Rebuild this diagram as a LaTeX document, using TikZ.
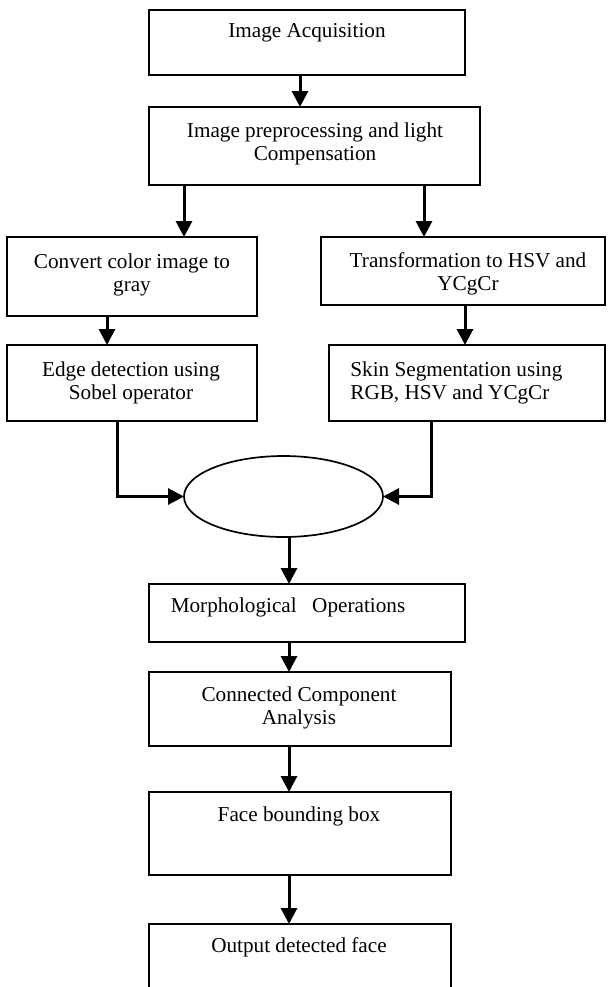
\documentclass[tikz,border=0pt]{standalone}
\usepackage{fontspec}
\setmainfont{Liberation Serif}
\usetikzlibrary{arrows.meta,shapes.geometric}
\begin{document}
\begin{tikzpicture}[x=0.5pt,y=-0.5pt,
  box/.style={draw, line width=1pt, inner sep=0pt, outer sep=0pt, anchor=north west},
  txt/.style={font=\fontsize{10.6pt}{11.5pt}\selectfont, align=center, inner sep=0pt},
  arr/.style={line width=1.5pt, -{Triangle[width=8pt,length=8pt]}},
  ]
\useasboundingbox (0,0) rectangle (607,987);
\clip (0,0) rectangle (607,987);
% boxes
\node[box, minimum width=158pt, minimum height=32.5pt] (acq) at (149,10) {};
\node[box, minimum width=165.5pt, minimum height=39pt] (prep) at (149,107) {};
\node[box, minimum width=125pt, minimum height=39.5pt] (conv) at (7,237) {};
\node[box, minimum width=142pt, minimum height=34pt] (trans) at (321,237) {};
\node[box, minimum width=125pt, minimum height=38pt] (edge) at (7,345) {};
\node[box, minimum width=138pt, minimum height=38pt] (skin) at (329,345) {};
\node[draw, ellipse, line width=0.85pt, inner sep=0pt, outer sep=0pt,
      minimum width=99.5pt, minimum height=40.5pt] (ell) at (283.5,496.5) {};
\node[box, minimum width=158pt, minimum height=29pt] (morph) at (149,584) {};
\node[box, minimum width=151pt, minimum height=37pt] (conn) at (149,672) {};
\node[box, minimum width=151pt, minimum height=41.5pt] (face) at (149,792) {};
\node[box, minimum width=151pt, minimum height=40pt] (out) at (149,924) {};
% texts
\node[txt] (acqt) at (307,33) {Image Acquisition};
\node[txt] (prept) at (315,143.5) {Image preprocessing and light\\Compensation};
\node[txt] (convt) at (132,275) {Convert color image to\\gray};
\node[txt] (transt) at (468,273.5) {Transformation to HSV and\\YCgCr};
\node[txt] (edget) at (131,382.5) {Edge detection using\\Sobel operator};
\node[txt, anchor=west, align=left] (skint) at (350,382.5) {Skin Segmentation using\\RGB, HSV and YCgCr};
\node[txt] (morpht) at (288,607) {Morphological\hspace{0.73em}Operations};
\node[txt] (connt) at (299,707.5) {Connected Component\\Analysis};
\node[txt] (facet) at (299,816) {Face bounding box};
\node[txt] (outt) at (299,947) {Output detected face};
% arrow columns
\coordinate (x1) at (300,0);
\coordinate (x2) at (184,0);
\coordinate (x3) at (424,0);
\coordinate (x4) at (107,0);
\coordinate (x5) at (465,0);
\coordinate (x6) at (117,0);
\coordinate (x7) at (431,0);
\coordinate (x8) at (289,0);
% connectors
\draw[arr] (acq.south -| x1) -- (prep.north -| x1);
\draw[arr] (prep.south -| x2) -- (conv.north -| x2);
\draw[arr] (prep.south -| x3) -- (trans.north -| x3);
\draw[arr] (conv.south -| x4) -- (edge.north -| x4);
\draw[arr] (trans.south -| x5) -- (skin.north -| x5);
\draw[arr] (edge.south -| x6) |- (ell.west);
\draw[arr] (skin.south -| x7) |- (ell.east);
\draw[arr] (ell.south -| x8) -- (morph.north -| x8);
\draw[arr] (morph.south -| x8) -- (conn.north -| x8);
\draw[arr] (conn.south -| x8) -- (face.north -| x8);
\draw[arr] (face.south -| x8) -- (out.north -| x8);
\end{tikzpicture}
\end{document}
